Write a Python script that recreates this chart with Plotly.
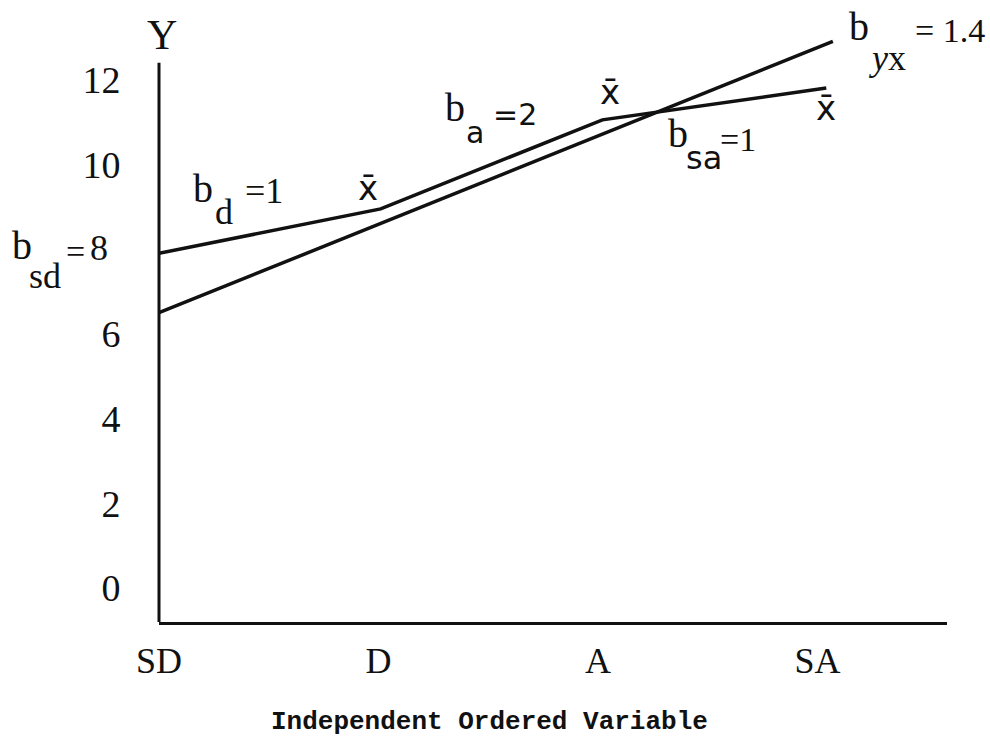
import plotly.graph_objects as go

# ---- data ----
categories = ["SD", "D", "A", "SA"]
cat_pos = [0, 1, 2, 3]
y_ticks = [0, 2, 4, 6, 10, 12]

group_x = [0, 1.01, 2.02, 3.04]          # group means (x̄) segments
group_y = [7.9, 8.95, 11.05, 11.8]
reg_x = [0, 3.07]                        # overall regression line
reg_y = [6.5, 12.9]

X_RANGE = [0, 3.59]
Y_RANGE = [-0.8, 13.1]
Y_AXIS_TOP = 12.4

W, H = 990, 738
ML, MR, MT, MB = 159, 43, 33, 116
PW, PH = W - ML - MR, H - MT - MB

# reference-pixel -> paper helpers (for text placement only)
def px2paper(px):
    return (px - ML) / PW
def py2paper(py):
    return (H - MB - py) / PH

serif = "Liberation Serif"
sans = "DejaVu Sans"
black = "#111111"

fig = go.Figure()
fig.add_trace(go.Scatter(x=group_x, y=group_y, mode="lines",
                         line=dict(color=black, width=3.5), showlegend=False, hoverinfo="skip"))
fig.add_trace(go.Scatter(x=reg_x, y=reg_y, mode="lines",
                         line=dict(color=black, width=3.5), showlegend=False, hoverinfo="skip"))

# (text, px, py, size, family)
labels = [
    ("b", 203, 189, 40, serif), ("d", 224, 212, 36, serif), ("=1", 264, 191, 36, serif),
    ("x\u0304", 368, 188, 34, sans),
    ("b", 455, 108, 40, serif), ("a", 475, 132, 30, sans), ("=2", 515, 115, 30, sans),
    ("x\u0304", 610, 92, 34, sans),
    ("b", 678, 134, 40, serif), ("sa", 704, 158, 32, sans), ("=1", 738, 139, 34, serif),
    ("x\u0304", 826, 108, 34, sans),
    ("b", 859, 26, 40, serif), ("<i>y</i>x", 887, 58, 36, serif), ("= 1.4", 950, 31, 34, serif),
    ("b", 22, 246, 40, serif), ("sd", 45, 276, 36, serif), ("=", 75, 251, 34, serif), ("8", 99, 248, 36, serif),
    ("Y", 162, 35, 42, serif),
]
for t, px, py, s, f in labels:
    fig.add_annotation(x=px2paper(px), y=py2paper(py), xref="paper", yref="paper", text=t,
                       showarrow=False, xanchor="center", yanchor="middle",
                       font=dict(family=f, size=s, color=black))

fig.add_annotation(x=px2paper(489), y=py2paper(722), xref="paper", yref="paper",
                   text="<b>Independent Ordered Variable</b>", showarrow=False,
                   xanchor="center", yanchor="middle",
                   font=dict(family="Liberation Mono", size=26, color=black))

# y axis line (only up to the drawn axis top)
fig.add_shape(type="line", xref="paper", yref="paper", x0=0, x1=0, y0=0,
              y1=(Y_AXIS_TOP - Y_RANGE[0]) / (Y_RANGE[1] - Y_RANGE[0]),
              line=dict(color=black, width=3))

fig.update_layout(
    width=W, height=H,
    margin=dict(l=ML, r=MR, t=MT, b=MB),
    paper_bgcolor="white", plot_bgcolor="white",
    xaxis=dict(range=X_RANGE, tickvals=cat_pos, ticktext=categories,
               showline=True, linecolor=black, linewidth=3, showgrid=False, zeroline=False,
               ticks="outside", ticklen=5, tickcolor="rgba(0,0,0,0)",
               tickfont=dict(family=serif, size=36, color=black)),
    yaxis=dict(range=Y_RANGE, tickvals=y_ticks, ticktext=[str(v) for v in y_ticks],
               showline=False, showgrid=False, zeroline=False,
               ticks="outside", ticklen=30, tickcolor="rgba(0,0,0,0)",
               tickfont=dict(family=serif, size=38, color=black)),
)

fig.write_html("out.html", config={"displayModeBar": False},
               post_script="document.body.style.margin='0px';document.body.style.overflow='hidden';")
